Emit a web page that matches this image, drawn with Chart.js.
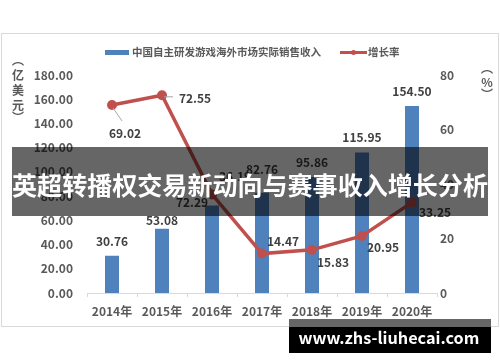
<!DOCTYPE html>
<html>
<head>
<meta charset="utf-8">
<script src="https://cdn.jsdelivr.net/npm/chart.js@4.4.1/dist/chart.umd.min.js"></script>
<style>
  html, body { margin: 0; padding: 0; background: #fff; }
  #wrap { width: 500px; height: 362px; }
</style>
</head>
<body>
<div id="wrap"><canvas id="chart" width="500" height="362"></canvas></div>
<script>
// data
const years = ["2014年", "2015年", "2016年", "2017年", "2018年", "2019年", "2020年"];
const revenue = [30.76, 53.08, 72.29, 82.76, 95.86, 115.95, 154.50];
const growth = [69.02, 72.55, 36.19, 14.47, 15.83, 20.95, 33.25];
const revenueLabel = "中国自主研发游戏海外市场实际销售收入";
const growthLabel = "增长率";
const leftAxisTitle = ["︵", "亿", "美", "元", "︶"];
const rightAxisTitle = ["︵", "%", "︶"];
const leftMax = 180, leftStep = 20;
const rightMax = 80, rightStep = 20;
const bannerText = "英超转播权交易新动向与赛事收入增长分析";
const siteText = "www.zhs-liuhecai.com";

// where each value label sits, relative to its bar top / point (styling only)
const barLabelOffsets = [[0, -14], [0, -8], [-20, -3], [0, -23], [0, -14], [0, -15], [0, -14]];
const lineLabelOffsets = [[13, 29], [33, 3], [23, -18], [21, -12], [21, 13], [21, 12], [23, 10]];

const FONT = "'Noto Sans CJK SC', 'Noto Sans', sans-serif";
const BLUE = "#4f81bd";
const RED = "#c0504d";
const TXT = "#595959";

const framePlugin = {
    id: "frame",
    beforeDraw(chart) {
        const ctx = chart.ctx;
        ctx.save();
        ctx.fillStyle = "#fff";
        ctx.fillRect(0, 0, 500, 362);
        ctx.strokeStyle = "#d9d9d9";
        ctx.lineWidth = 1;
        ctx.strokeRect(1.5, 33.5, 497, 293);
        ctx.restore();
    }
};

const labelPlugin = {
    id: "labels",
    afterDatasetsDraw(chart) {
        const ctx = chart.ctx;
        ctx.save();
        ctx.font = "bold 12px " + FONT;
        ctx.fillStyle = "#404040";
        ctx.textAlign = "center";
        ctx.textBaseline = "middle";

        const bars = chart.getDatasetMeta(0).data;
        bars.forEach((bar, i) => {
            const o = barLabelOffsets[i];
            ctx.fillText(revenue[i].toFixed(2), bar.x + o[0], bar.y + o[1]);
        });

        const points = chart.getDatasetMeta(1).data;
        // leader lines for the first two labels
        ctx.strokeStyle = "#a6a6a6";
        ctx.lineWidth = 1;
        ctx.beginPath();
        ctx.moveTo(points[0].x + 1, points[0].y + 3);
        ctx.lineTo(points[0].x + 10, points[0].y + 16);
        ctx.moveTo(points[1].x + 2, points[1].y + 1.5);
        ctx.lineTo(points[1].x + 11, points[1].y + 1.5);
        ctx.stroke();

        points.forEach((pt, i) => {
            const o = lineLabelOffsets[i];
            ctx.fillText(growth[i].toFixed(2), pt.x + o[0], pt.y + o[1]);
        });
        ctx.restore();
    },
    afterDraw(chart) {
        const ctx = chart.ctx;
        ctx.save();

        // legend
        ctx.font = "bold 10.5px " + FONT;
        ctx.fillStyle = TXT;
        ctx.textBaseline = "middle";
        ctx.textAlign = "left";
        ctx.fillStyle = BLUE;
        ctx.fillRect(105, 50, 24, 5);
        ctx.fillStyle = TXT;
        ctx.fillText(revenueLabel, 132, 52.5);
        ctx.strokeStyle = RED;
        ctx.lineWidth = 3;
        ctx.beginPath();
        ctx.moveTo(340, 52.5);
        ctx.lineTo(367, 52.5);
        ctx.stroke();
        ctx.fillStyle = RED;
        ctx.beginPath();
        ctx.arc(353.5, 52.5, 2.5, 0, Math.PI * 2);
        ctx.fill();
        ctx.fillStyle = TXT;
        ctx.fillText(growthLabel, 368, 52.5);

        // axis titles, stacked upright
        ctx.textAlign = "center";
        ctx.font = "bold 12px " + FONT;
        const ly = [60, 75, 90, 105, 117];
        leftAxisTitle.forEach((c, i) => ctx.fillText(c, 18, ly[i]));
        const ry = [68, 82, 94];
        rightAxisTitle.forEach((c, i) => ctx.fillText(c, 487, ry[i]));

        // dark banner with the headline
        ctx.fillStyle = "rgba(0,0,0,0.6)";
        ctx.fillRect(12, 147, 476, 69);
        ctx.fillStyle = "#fff";
        let size = 26;
        ctx.font = "bold " + size + "px " + FONT;
        size = size * 476 / ctx.measureText(bannerText).width;
        ctx.font = "bold " + size + "px " + FONT;
        ctx.fillText(bannerText, 250, 185);

        // site stamp
        ctx.fillStyle = "#666";
        ctx.fillRect(289, 319, 202, 8);
        ctx.fillStyle = "#000";
        ctx.fillRect(289, 327, 202, 26);
        ctx.fillStyle = "#fff";
        let s2 = 18;
        ctx.font = "bold " + s2 + "px " + FONT;
        s2 = s2 * 181 / ctx.measureText(siteText).width;
        ctx.font = "bold " + s2 + "px " + FONT;
        ctx.fillText(siteText, 389, 338);
        ctx.restore();
    }
};

const ctx = document.getElementById("chart").getContext("2d");

const chart = new Chart(ctx, {
    type: "bar",
    data: {
        labels: years,
        datasets: [
            {
                type: "bar",
                label: revenueLabel,
                data: revenue,
                backgroundColor: BLUE,
                yAxisID: "y",
                barPercentage: 0.28,
                categoryPercentage: 1,
                order: 1,
            },
            {
                type: "line",
                label: growthLabel,
                data: growth,
                borderColor: RED,
                backgroundColor: RED,
                borderWidth: 3.5,
                pointRadius: 5,
                pointHoverRadius: 5,
                pointBackgroundColor: RED,
                pointBorderWidth: 0,
                tension: 0,
                yAxisID: "y1",
                order: 0,
            },
        ],
    },
    options: {
        responsive: false,
        animation: false,
        events: [],
        layout: { padding: { top: 75, left: 0, right: 0, bottom: 0 } },
        plugins: {
            legend: { display: false },
            tooltip: { enabled: false },
        },
        scales: {
            x: {
                grid: {
                    display: true,
                    drawOnChartArea: false,
                    drawTicks: true,
                    tickLength: 4,
                    color: "#d9d9d9",
                    offset: true,
                },
                border: { display: true, color: "#d9d9d9" },
                ticks: {
                    color: TXT,
                    padding: 7,
                    font: { family: FONT, size: 12, weight: "bold" },
                    maxRotation: 0,
                },
                afterFit(scale) { scale.height = 69; },
            },
            y: {
                position: "left",
                min: 0,
                max: leftMax,
                grid: { display: false, drawTicks: false },
                border: { display: false },
                ticks: {
                    stepSize: leftStep,
                    color: TXT,
                    padding: 14,
                    font: { family: FONT, size: 12, weight: "bold" },
                    callback: (v) => v.toFixed(2),
                },
                afterFit(scale) { scale.width = 87; },
            },
            y1: {
                position: "right",
                min: 0,
                max: rightMax,
                grid: { display: false, drawTicks: false },
                border: { display: false },
                ticks: {
                    stepSize: rightStep,
                    color: TXT,
                    padding: 3,
                    font: { family: FONT, size: 12, weight: "bold" },
                },
                afterFit(scale) { scale.width = 63; },
            },
        },
    },
    plugins: [framePlugin, labelPlugin],
});
</script>
</body>
</html>
